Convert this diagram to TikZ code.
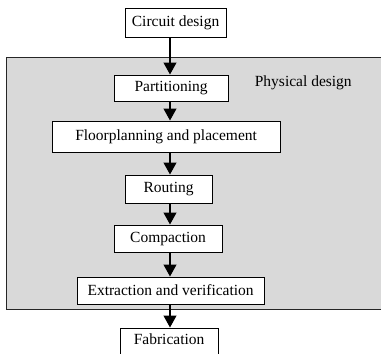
\documentclass[tikz,border=0pt]{standalone}
\usepackage{fontspec}
\setmainfont{Liberation Serif}
\usetikzlibrary{arrows.meta}
\tikzset{
  stepbox/.style={draw=black, line width=1.2pt, fill=white, inner sep=0pt, font=\fontsize{15.5}{18}\selectfont, anchor=north west},
  arr/.style={line width=1.2pt, -{Triangle[width=13pt,length=12pt]}},
  panel/.style={draw=black!85, line width=1.5pt, fill=black!15}
}
\begin{document}
\begin{tikzpicture}[x=1pt,y=-1pt]
\useasboundingbox (0,0) rectangle (381,354);
\clip (0,0) rectangle (381,354);
\fill[white] (0,0) rectangle (381,354);
\draw[panel] (6.5,57.5) rectangle (395,309.5);
\node[font=\fontsize{15.5}{18}\selectfont] (phys) at (303.3,83) {Physical design};
\node[stepbox, minimum width=101pt, minimum height=29pt] (circ) at (124.5,7.5) {Circuit design};
\node[stepbox, minimum width=114pt, minimum height=26pt] (part) at (113.5,74.5) {Partitioning};
\node[stepbox, minimum width=228pt, minimum height=31pt] (floor) at (51.5,120.5) {Floorplanning and placement};
\node[stepbox, minimum width=87pt, minimum height=28pt] (rout) at (124.5,174.5) {Routing};
\node[stepbox, minimum width=108pt, minimum height=27pt] (comp) at (113.5,224.5) {Compaction};
\node[stepbox, minimum width=187pt, minimum height=27pt] (extr) at (76.5,276.5) {Extraction and verification};
\node[stepbox, minimum width=98pt, minimum height=40pt, text depth=17pt] (fab) at (119.5,327.5) {Fabrication};
\coordinate (ax) at (170,0);
\draw[arr] (circ.south -| ax) -- (part.north -| ax);
\draw[arr] (part.south -| ax) -- (floor.north -| ax);
\draw[arr] (floor.south -| ax) -- (rout.north -| ax);
\draw[arr] (rout.south -| ax) -- (comp.north -| ax);
\draw[arr] (comp.south -| ax) -- (extr.north -| ax);
\draw[arr] (extr.south -| ax) -- (fab.north -| ax);
\end{tikzpicture}
\end{document}
